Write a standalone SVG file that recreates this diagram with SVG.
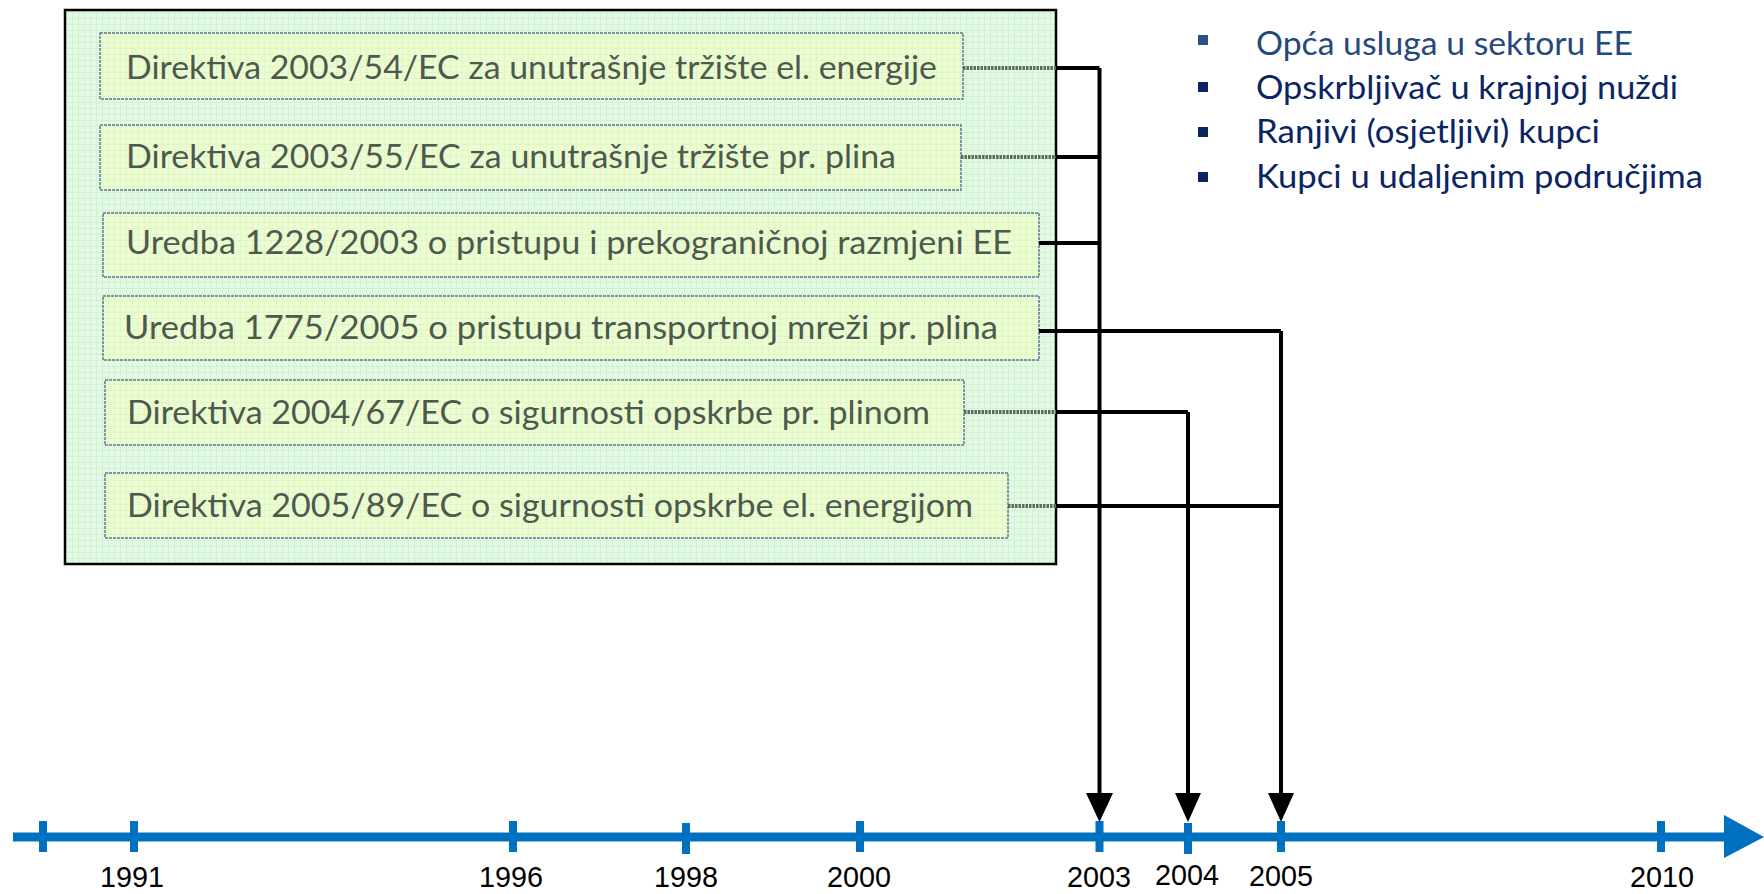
<svg xmlns="http://www.w3.org/2000/svg" width="1764" height="894" viewBox="0 0 1764 894">
<defs>
<pattern id="grid" width="6" height="6" patternUnits="userSpaceOnUse">
<rect width="6" height="6" fill="#e3fbe3"/>
<path d="M0 0.5H6M0.5 0V6" stroke="#d3f0d6" stroke-width="1"/>
</pattern>
<pattern id="grid2" width="6" height="6" patternUnits="userSpaceOnUse">
<rect width="6" height="6" fill="#ecfdd0"/>
<path d="M0 0.5H6M0.5 0V6" stroke="#e0f5cc" stroke-width="1"/>
</pattern>
</defs>
<style>
.doc{fill:url(#grid2);stroke:#5b7895;stroke-width:1.5;stroke-dasharray:3 1}
.dt{font-family:Lato,"Open Sans",sans-serif;font-size:32px;fill:#4e594e}
.bl{font-family:Lato,"Open Sans",sans-serif;font-size:32px;fill:#0b2463}
.yr{font-family:"Liberation Sans",Arial,sans-serif;font-size:30px;fill:#000}
.con{fill:none;stroke:#000;stroke-width:4}
.dim{fill:none;stroke:#5d6b5d;stroke-width:4;stroke-dasharray:2.5 1}
.tick{fill:#0070c0}
.ahd{fill:#000}
</style>
<rect width="1764" height="894" fill="#ffffff"/>

<g id="frame">
<rect x="65" y="10" width="991" height="554" fill="url(#grid)" stroke="#000" stroke-width="2.5"/>
</g>

<g id="n1"><rect class="doc" x="100" y="33" width="863" height="66"/><text class="dt" x="126" y="79" textLength="811" lengthAdjust="spacingAndGlyphs">Direktiva 2003/54/EC za unutrašnje tržište el. energije</text></g>
<g id="n2"><rect class="doc" x="100" y="125" width="861" height="65"/><text class="dt" x="126" y="168" textLength="770" lengthAdjust="spacingAndGlyphs">Direktiva 2003/55/EC za unutrašnje tržište pr. plina</text></g>
<g id="n3"><rect class="doc" x="103" y="213" width="936" height="64"/><text class="dt" x="126" y="254" textLength="886" lengthAdjust="spacingAndGlyphs">Uredba 1228/2003 o pristupu i prekograničnoj razmjeni EE</text></g>
<g id="n4"><rect class="doc" x="103" y="296" width="936" height="64"/><text class="dt" x="124" y="339" textLength="874" lengthAdjust="spacingAndGlyphs">Uredba 1775/2005 o pristupu transportnoj mreži pr. plina</text></g>
<g id="n5"><rect class="doc" x="105" y="380" width="859" height="65"/><text class="dt" x="127" y="424" textLength="803" lengthAdjust="spacingAndGlyphs">Direktiva 2004/67/EC o sigurnosti opskrbe pr. plinom</text></g>
<g id="n6"><rect class="doc" x="105" y="473" width="903" height="65"/><text class="dt" x="127" y="517" textLength="846" lengthAdjust="spacingAndGlyphs">Direktiva 2005/89/EC o sigurnosti opskrbe el. energijom</text></g>

<g id="connectors">
<path class="dim" d="M963 68H1056M961 157H1056M964 412H1056M1008 506H1056"/>
<path class="con" d="M1056 68H1099.5M1056 157H1099.5M1039 243H1099.5M1099.5 68V796"/>
<path class="con" d="M1039 331H1281M1281 331V796"/>
<path class="con" d="M1056 412H1188M1188 412V796"/>
<path class="con" d="M1056 506H1281"/>
<polygon class="ahd" points="1086,793 1113,793 1099.5,822"/>
<polygon class="ahd" points="1175,793 1201,793 1188,822"/>
<polygon class="ahd" points="1268,793 1294,793 1281,822"/>
</g>

<g id="timeline">
<rect x="13" y="832.5" width="1713" height="9" fill="#0070c0"/>
<polygon points="1724,815 1764,837 1724,858" fill="#0070c0"/>
<rect class="tick" x="39" y="821" width="8" height="31"/>
<rect class="tick" x="130" y="821" width="8" height="31"/>
<rect class="tick" x="509" y="821" width="8" height="31"/>
<rect class="tick" x="682" y="823" width="8" height="31"/>
<rect class="tick" x="856" y="821" width="8" height="31"/>
<rect class="tick" x="1095.5" y="821" width="8" height="31"/>
<rect class="tick" x="1184" y="823" width="8" height="31"/>
<rect class="tick" x="1277" y="821" width="8" height="31"/>
<rect class="tick" x="1657" y="821" width="8" height="31"/>
<text class="yr" x="100" y="887" textLength="64" lengthAdjust="spacingAndGlyphs">1991</text>
<text class="yr" x="479" y="887" textLength="64" lengthAdjust="spacingAndGlyphs">1996</text>
<text class="yr" x="654" y="887" textLength="64" lengthAdjust="spacingAndGlyphs">1998</text>
<text class="yr" x="827" y="887" textLength="64" lengthAdjust="spacingAndGlyphs">2000</text>
<text class="yr" x="1067" y="887" textLength="64" lengthAdjust="spacingAndGlyphs">2003</text>
<text class="yr" x="1155" y="885" textLength="64" lengthAdjust="spacingAndGlyphs">2004</text>
<text class="yr" x="1249" y="886" textLength="64" lengthAdjust="spacingAndGlyphs">2005</text>
<text class="yr" x="1630" y="887" textLength="64" lengthAdjust="spacingAndGlyphs">2010</text>
</g>

<g id="bullets">
<rect x="1198" y="35" width="10" height="10" fill="#2d5385"/>
<rect x="1198" y="82" width="10" height="10" fill="#0b2463"/>
<rect x="1198" y="127" width="10" height="10" fill="#0b2463"/>
<rect x="1198" y="172" width="10" height="10" fill="#0b2463"/>
<text class="bl" x="1256" y="55" textLength="377" lengthAdjust="spacingAndGlyphs" style="fill:#24497a">Opća usluga u sektoru EE</text>
<text class="bl" x="1256" y="99" textLength="422" lengthAdjust="spacingAndGlyphs">Opskrbljivač u krajnjoj nuždi</text>
<text class="bl" x="1256" y="143" textLength="344" lengthAdjust="spacingAndGlyphs">Ranjivi (osjetljivi) kupci</text>
<text class="bl" x="1256" y="188" textLength="447" lengthAdjust="spacingAndGlyphs">Kupci u udaljenim područjima</text>
</g>
</svg>
